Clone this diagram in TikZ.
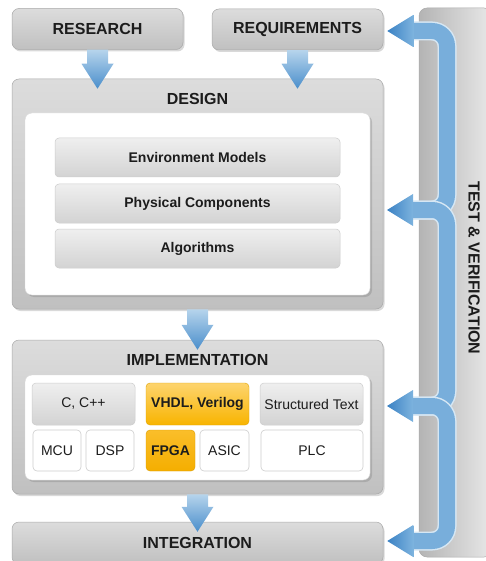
\documentclass[tikz,border=0pt]{standalone}
\usepackage{fontspec}
\setmainfont{Liberation Sans}
\usetikzlibrary{calc,shadows}

\definecolor{ink}{HTML}{1C1C1C}
\definecolor{stageTop}{HTML}{DCDCDC}
\definecolor{stageBot}{HTML}{C0C0C0}
\definecolor{stageEdge}{HTML}{A9A9A9}
\definecolor{rowTop}{HTML}{EFEFEF}
\definecolor{rowBot}{HTML}{D3D3D3}
\definecolor{rowEdge}{HTML}{CDCDCD}
\definecolor{goldTop}{HTML}{FDD46E}
\definecolor{goldBot}{HTML}{F8B400}
\definecolor{fpgaTop}{HTML}{FABE2A}
\definecolor{fpgaBot}{HTML}{F5AE00}
\definecolor{tvLeft}{HTML}{B4B4B4}
\definecolor{tvRight}{HTML}{E8E8E8}
\definecolor{headDark}{HTML}{3B82C4}
\definecolor{headLight}{HTML}{7DB3DE}
\definecolor{shaftBlue}{HTML}{78AEDB}
\definecolor{shaftRim}{HTML}{D6E7F4}
\definecolor{dnTop}{HTML}{B6D4EC}
\definecolor{dnBot}{HTML}{4A8ECB}

\tikzset{
  softshadow/.style={drop shadow={shadow xshift=1.5pt,shadow yshift=-2pt,opacity=0.3}},
  stage/.style={rounded corners=7pt, top color=stageTop, bottom color=stageBot,
    draw=stageEdge, line width=0.5pt, softshadow, inner sep=0pt},
  panel/.style={rounded corners=7pt, fill=white, draw=white!85!black, line width=0.4pt,
    drop shadow={shadow xshift=2pt,shadow yshift=-2pt,opacity=0.35}, inner sep=0pt},
  rowbox/.style={rounded corners=4pt, top color=rowTop, bottom color=rowBot,
    draw=rowEdge, line width=0.5pt, inner sep=0pt},
  whitebox/.style={rounded corners=4pt, fill=white, draw=rowEdge, line width=0.6pt, inner sep=0pt},
  goldbox/.style={rounded corners=4pt, top color=goldTop, bottom color=goldBot,
    draw=goldBot!90!black, line width=0.4pt, inner sep=0pt},
  fpgabox/.style={rounded corners=4pt, top color=fpgaTop, bottom color=fpgaBot,
    draw=fpgaBot!90!black, line width=0.4pt, inner sep=0pt},
  title/.style={font=\bfseries\fontsize{16}{18}\selectfont, text=ink},
  itemb/.style={font=\bfseries\fontsize{14}{16}\selectfont, text=ink},
  itemr/.style={font=\fontsize{14}{16}\selectfont, text=ink},
  shaft/.style={draw=shaftBlue, line width=16pt, rounded corners=15pt,
    preaction={draw=shaftRim, line width=19pt}},
}

% downward flow arrow from the bottom of one box into the top of the next
\newcommand\dnarrow[2]{%
  \coordinate (dnA) at (#1.south);
  \coordinate (dnB) at ($(#1.south |- #2.north)+(0,10)$);
  \shade[top color=dnTop, bottom color=dnBot]
    ($(dnA)+(-10.5,0)$) -- ($(dnB)+(-10.5,-25)$) -- ($(dnB)+(-16,-25)$) -- (dnB)
    -- ($(dnB)+(16,-25)$) -- ($(dnB)+(10.5,-25)$) -- ($(dnA)+(10.5,0)$) -- cycle;
}

\begin{document}
\begin{tikzpicture}[x=1pt,y=-1pt]
\useasboundingbox (0,0) rectangle (486,561);

% test & verification column
\node[rounded corners=8pt, left color=tvLeft, right color=tvRight, draw=stageEdge,
      line width=0.5pt, minimum width=73, minimum height=549, inner sep=0pt]
      (tv) at (455.5,282.5) {};
\node[title, rotate=-90] (tvText) at (474,268) {TEST \& VERIFICATION};

% top row
\node[stage, minimum width=171, minimum height=41, title] (research) at (97.5,29) {RESEARCH};
\node[stage, minimum width=171, minimum height=41, title] (requirements) at (297.5,29.5) {REQUIREMENTS};

% design stage
\node[stage, minimum width=371, minimum height=230] (design) at (197.5,194) {};
\node[title] (designTitle) at (197.5,99) {DESIGN};
\node[panel, minimum width=345, minimum height=182] (designPanel) at (197.5,204) {};
\node[rowbox, minimum width=285, minimum height=39, itemb] (env) at (197.5,157.5) {Environment Models};
\node[rowbox, minimum width=285, minimum height=39, itemb] (phys) at (197.5,203.5) {Physical Components};
\node[rowbox, minimum width=285, minimum height=39, itemb] (alg) at (197.5,248.5) {Algorithms};

% implementation stage
\node[stage, minimum width=371, minimum height=154] (impl) at (197.5,417) {};
\node[title] (implTitle) at (197.5,360) {IMPLEMENTATION};
\node[panel, minimum width=345, minimum height=105] (implPanel) at (197.5,427.5) {};
\node[rowbox, minimum width=103, minimum height=42, itemr] (cpp) at (83.5,404) {C, C++};
\node[goldbox, minimum width=103, minimum height=42, itemb] (vhdl) at (197.5,404) {VHDL, Verilog};
\node[rowbox, minimum width=103, minimum height=42, itemr] (stxt) at (311.5,404) {Structured Text};
\node[whitebox, minimum width=48, minimum height=41, itemr] (mcu) at (57,450.5) {MCU};
\node[whitebox, minimum width=48, minimum height=41, itemr] (dsp) at (110,450.5) {DSP};
\node[fpgabox, minimum width=49, minimum height=41, itemb] (fpga) at (170.5,450.5) {FPGA};
\node[whitebox, minimum width=49, minimum height=41, itemr] (asic) at (224.5,450.5) {ASIC};
\node[whitebox, minimum width=102, minimum height=41, itemr] (plc) at (312,450.5) {PLC};

% integration stage
\node[stage, minimum width=371, minimum height=42, title] (integ) at (197.5,543) {INTEGRATION};

% flow between stages
\dnarrow{research}{design}
\dnarrow{requirements}{design}
\dnarrow{impl}{integ}
\dnarrow{design}{impl}

% feedback from test & verification
\coordinate (spine) at (447,0);
\coordinate (tvA) at ($(requirements.east)+(4,1.5)$);
\coordinate (tvB) at (387,210);
\coordinate (tvC) at (387,406);
\coordinate (tvD) at ($(integ.east)+(4,-2)$);
\foreach \a/\b in {tvA/tvB, tvB/tvC, tvC/tvD}{
  \draw[shaft] ($(\a)+(24,0)$) -- (\a -| spine) -- (\b -| spine) -- ($(\b)+(24,0)$);
}
\foreach \a in {tvA, tvB, tvC, tvD}{
  \shade[left color=headDark, right color=headLight]
    (\a) -- ($(\a)+(26,-16)$) -- ($(\a)+(26,16)$) -- cycle;
}
\end{tikzpicture}
\end{document}
